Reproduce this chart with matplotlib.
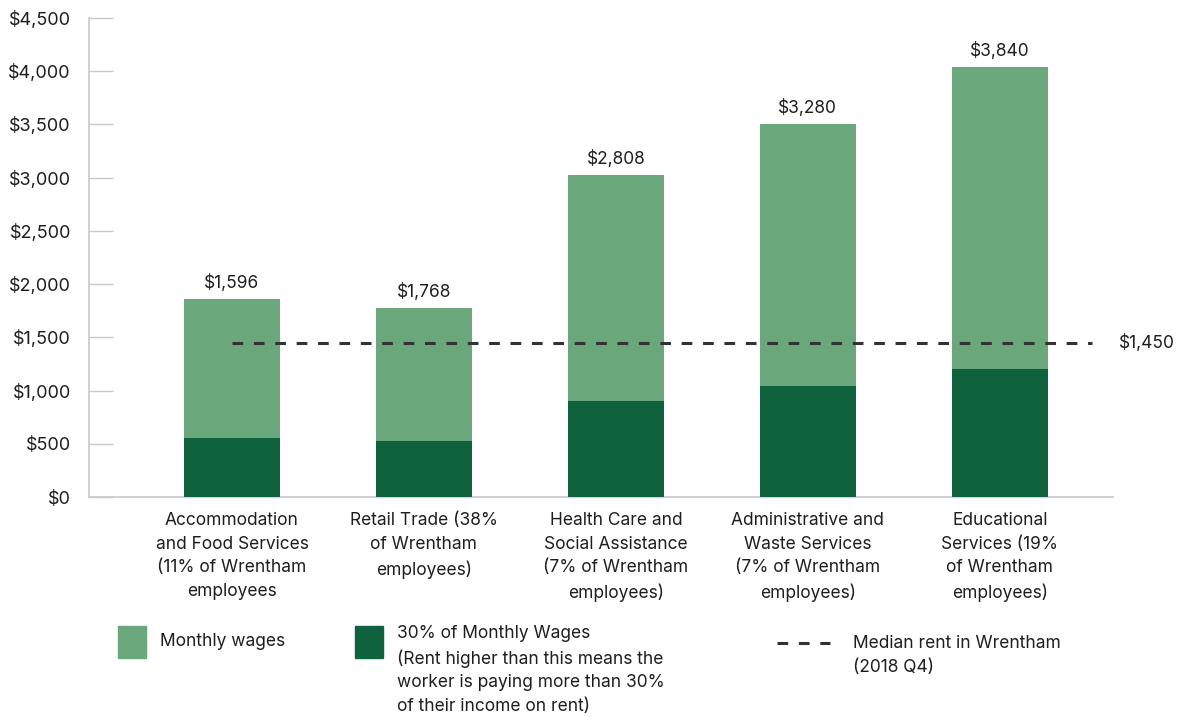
import matplotlib
matplotlib.use("Agg")
import matplotlib.pyplot as plt
from matplotlib.patches import Rectangle
from matplotlib.lines import Line2D
from matplotlib.ticker import FuncFormatter

plt.rcParams['font.family'] = ['Inter', 'DejaVu Sans']

categories = [
    "Accommodation\nand Food Services\n(11% of Wrentham\nemployees",
    "Retail Trade (38%\nof Wrentham\nemployees)",
    "Health Care and\nSocial Assistance\n(7% of Wrentham\nemployees)",
    "Administrative and\nWaste Services\n(7% of Wrentham\nemployees)",
    "Educational\nServices (19%\nof Wrentham\nemployees)",
]
monthly_wages = [1860, 1776, 3026, 3505, 4040]
thirty_pct = [554, 526, 902, 1043, 1206]
value_labels = ["$1,596", "$1,768", "$2,808", "$3,280", "$3,840"]
median_rent = 1450
median_label = "$1,450"

LIGHT = "#6aa87c"
DARK = "#0e623d"
TEXT = "#1e1e1e"
GRID = "#c8c8c8"
FS = 12.5
DASH = (0, (3.5, 3.5))

fig = plt.figure(figsize=(11.86, 7.17), dpi=100)
ax = fig.add_axes([0.075, 0.3068, 0.8635, 0.6681])

x = list(range(len(categories)))
ax.bar(x, monthly_wages, width=0.5, color=LIGHT, zorder=2)
ax.bar(x, thirty_pct, width=0.5, color=DARK, zorder=3)

for xi, h, lab in zip(x, monthly_wages, value_labels):
    ax.annotate(lab, (xi, h), xytext=(0, 5), textcoords="offset points",
                ha="center", va="bottom", fontsize=FS, color=TEXT)

ax.plot([0, 4.48], [median_rent, median_rent], linestyle=DASH,
        color="#333333", linewidth=2.2, zorder=4)
ax.text(4.62, median_rent, median_label, ha="left", va="center",
        fontsize=FS, color=TEXT, clip_on=False)

ax.set_xlim(-0.745, 4.59)
ax.set_ylim(0, 4500)
ax.set_yticks(range(0, 4501, 500))
ax.yaxis.set_major_formatter(FuncFormatter(lambda v, p: f"${int(v):,}"))
ax.set_xticks(x)
ax.set_xticklabels(categories, fontsize=FS, color=TEXT, linespacing=1.5)
ax.tick_params(axis="x", length=0, pad=11)
ax.tick_params(axis="y", direction="in", length=17, width=1, color=GRID,
               labelsize=13, labelcolor=TEXT, pad=13)

for s in ["top", "right"]:
    ax.spines[s].set_visible(False)
ax.spines["left"].set_color(GRID)
ax.spines["bottom"].set_color(GRID)
ax.spines["left"].set_linewidth(1.2)
ax.spines["bottom"].set_linewidth(1.2)

W, H = 1186, 717
def fx(px):
    return px / W
def fy(py):
    return 1 - py / H

# Legend
fig.patches.append(Rectangle((fx(118), fy(658)), 28 / W, 32 / H,
                             transform=fig.transFigure, color=LIGHT))
fig.text(fx(160), fy(642), "Monthly wages", ha="left", va="center",
         fontsize=FS, color=TEXT)
fig.patches.append(Rectangle((fx(355), fy(658)), 28 / W, 32 / H,
                             transform=fig.transFigure, color=DARK))
fig.text(fx(397), fy(625),
         "30% of Monthly Wages\n(Rent higher than this means the\nworker is paying more than 30%\nof their income on rent)",
         ha="left", va="top", fontsize=FS, color=TEXT, linespacing=1.5)
fig.lines.append(Line2D([fx(777), fx(830)], [fy(643), fy(643)],
                        transform=fig.transFigure, color="#333333",
                        linewidth=2.2, linestyle=DASH))
fig.text(fx(853), fy(635), "Median rent in Wrentham\n(2018 Q4)",
         ha="left", va="top", fontsize=FS, color=TEXT, linespacing=1.5)

fig.savefig("out.png", dpi=100, facecolor="white")
